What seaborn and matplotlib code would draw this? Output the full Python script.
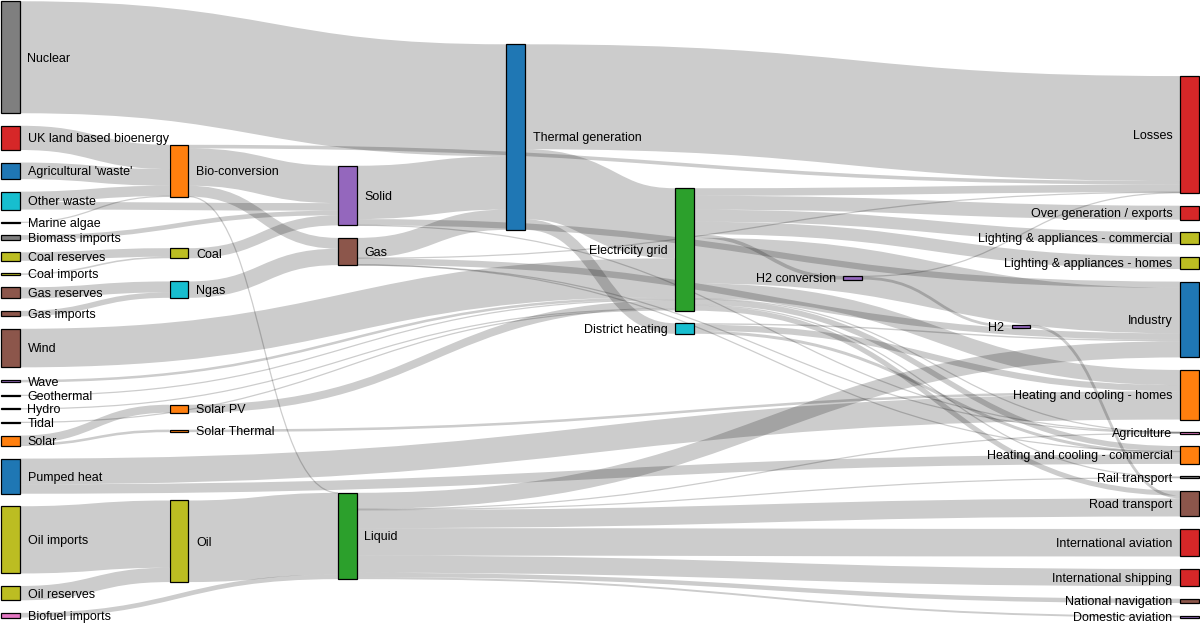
import matplotlib
matplotlib.use("Agg")
import matplotlib.pyplot as plt
from matplotlib.path import Path
from matplotlib.patches import PathPatch, Rectangle
import seaborn as sns

# energy flows (TWh), UK 2050 scenario
node_names = [
    "Agricultural 'waste'", "Bio-conversion", "Liquid", "Losses", "Solid", "Gas",
    "Biofuel imports", "Biomass imports", "Coal imports", "Coal", "Coal reserves",
    "District heating", "Industry", "Heating and cooling - commercial",
    "Heating and cooling - homes", "Electricity grid", "Over generation / exports",
    "H2 conversion", "Road transport", "Agriculture", "Rail transport",
    "Lighting & appliances - commercial", "Lighting & appliances - homes",
    "Gas imports", "Ngas", "Gas reserves", "Thermal generation", "Geothermal",
    "H2", "Hydro", "International shipping", "Domestic aviation",
    "International aviation", "National navigation", "Marine algae", "Nuclear",
    "Oil imports", "Oil", "Oil reserves", "Other waste", "Pumped heat",
    "Solar PV", "Solar Thermal", "Solar", "Tidal", "UK land based bioenergy",
    "Wave", "Wind",
]
link_source = [0, 1, 1, 1, 1, 6, 7, 8, 10, 9, 11, 11, 11, 15, 15, 15, 15, 15, 15,
               15, 15, 15, 15, 15, 23, 25, 5, 5, 5, 5, 5, 27, 17, 17, 28, 29, 2, 2,
               2, 2, 2, 2, 2, 2, 34, 24, 35, 36, 38, 37, 39, 39, 40, 40, 41, 42,
               43, 43, 44, 45, 46, 47, 4, 4, 4, 26, 26, 26]
link_target = [1, 2, 3, 4, 5, 2, 4, 9, 9, 4, 12, 13, 14, 16, 14, 17, 12, 18, 19,
               13, 3, 20, 21, 22, 24, 24, 13, 3, 26, 19, 12, 15, 28, 3, 18, 15, 12,
               30, 18, 31, 32, 19, 33, 20, 1, 5, 26, 37, 37, 2, 4, 1, 14, 13, 15,
               14, 42, 41, 15, 1, 15, 15, 19, 26, 12, 15, 3, 11]
link_value = [124.729, 0.597, 26.862, 280.322, 81.144, 35, 35, 11.606, 63.965,
              75.571, 10.639, 22.505, 46.184, 104.453, 113.726, 27.14, 342.165,
              37.797, 4.412, 40.858, 56.691, 7.863, 90.008, 93.494, 40.719,
              82.233, 0.129, 1.401, 151.891, 2.096, 48.58, 7.013, 20.897, 6.242,
              20.897, 6.995, 121.066, 128.69, 135.835, 14.458, 206.267, 3.64,
              33.218, 4.413, 4.375, 122.952, 839.978, 504.287, 107.703, 611.99,
              56.587, 77.81, 193.026, 70.672, 59.901, 19.263, 19.263, 59.901,
              9.452, 182.01, 19.013, 289.366, 0.882, 400.12, 46.477, 525.531,
              787.129, 79.329]

# ---- layout (same steps as d3-sankey) ----
W, H = 960, 500
NODE_W, PAD = 15, 10
EX0, EY0, EX1, EY1 = 1, 1, W - 1, H - 6
ITERATIONS = 32

n = len(node_names)
src_links = [[] for _ in range(n)]
tgt_links = [[] for _ in range(n)]
for i in range(len(link_value)):
    src_links[link_source[i]].append(i)
    tgt_links[link_target[i]].append(i)
value = [max(sum(link_value[l] for l in src_links[k]),
             sum(link_value[l] for l in tgt_links[k])) for k in range(n)]

depth = [0] * n
cur, x = list(range(n)), 0
while cur:
    nxt = []
    for k in cur:
        depth[k] = x
        for l in src_links[k]:
            if link_target[l] not in nxt:
                nxt.append(link_target[l])
    cur, x = nxt, x + 1
cur, x = list(range(n)), 0
while cur:
    nxt = []
    for k in cur:
        for l in tgt_links[k]:
            if link_source[l] not in nxt:
                nxt.append(link_source[l])
    cur, x = nxt, x + 1
ncols = x
kx = (EX1 - EX0 - NODE_W) / (ncols - 1)
layer = [min(ncols - 1, depth[k]) if src_links[k] else ncols - 1 for k in range(n)]
nx0 = [EX0 + layer[k] * kx for k in range(n)]
nx1 = [v + NODE_W for v in nx0]

columns = [[k for k in range(n) if layer[k] == c] for c in range(ncols)]
ky = min((EY1 - EY0 - (len(c) - 1) * PAD) / sum(value[k] for k in c) for c in columns)
y0 = [0.0] * n
y1 = [0.0] * n
for c in columns:
    for i, k in enumerate(c):
        y0[k] = float(i)
        y1[k] = i + value[k] * ky
width = [v * ky for v in link_value]


def center(k):
    return (y0[k] + y1[k]) / 2


def resolve():
    for c in columns:
        c.sort(key=lambda k: y0[k])
        y = EY0
        for k in c:
            dy = y - y0[k]
            if dy > 0:
                y0[k] += dy
                y1[k] += dy
            y = y1[k] + PAD
        dy = y - PAD - EY1
        if dy > 0:
            last = c[-1]
            y0[last] -= dy
            y1[last] -= dy
            y = y0[last]
            for k in reversed(c[:-1]):
                dy = y1[k] + PAD - y
                if dy > 0:
                    y0[k] -= dy
                    y1[k] -= dy
                y = y0[k]


def relax_left(alpha):
    for c in columns:
        for k in c:
            if tgt_links[k]:
                s = sum(center(link_source[l]) * link_value[l] for l in tgt_links[k])
                w = sum(link_value[l] for l in tgt_links[k])
                dy = (s / w - center(k)) * alpha
                y0[k] += dy
                y1[k] += dy


def relax_right(alpha):
    for c in reversed(columns):
        for k in c:
            if src_links[k]:
                s = sum(center(link_target[l]) * link_value[l] for l in src_links[k])
                w = sum(link_value[l] for l in src_links[k])
                dy = (s / w - center(k)) * alpha
                y0[k] += dy
                y1[k] += dy


resolve()
alpha = 1.0
for _ in range(ITERATIONS):
    alpha *= 0.99
    relax_right(alpha)
    resolve()
    relax_left(alpha)
    resolve()

ly0 = [0.0] * len(link_value)
ly1 = [0.0] * len(link_value)
for k in range(n):
    src_links[k].sort(key=lambda l: (y0[link_target[l]], l))
    tgt_links[k].sort(key=lambda l: (y0[link_source[l]], l))
for k in range(n):
    a = b = y0[k]
    for l in src_links[k]:
        ly0[l] = a + width[l] / 2
        a += width[l]
    for l in tgt_links[k]:
        ly1[l] = b + width[l] / 2
        b += width[l]

# ---- drawing ----
sns.set_style("white")
plt.rcParams['font.family'] = ['Liberation Sans', 'DejaVu Sans']
palette = sns.color_palette("tab10")
color_keys = []
for name in node_names:
    key = name.split(" ")[0]
    if key not in color_keys:
        color_keys.append(key)

fig = plt.figure(figsize=(12, 6.25), dpi=100)
ax = fig.add_axes([0, 0, 1, 1])
ax.set_xlim(0, W)
ax.set_ylim(H, 0)
ax.axis('off')
pt = 1200 / W * 72 / 100  # one layout unit in points

for l in range(len(link_value)):
    s, t = link_source[l], link_target[l]
    xa, xb = nx1[s], nx0[t]
    xm = (xa + xb) / 2
    path = Path([(xa, ly0[l]), (xm, ly0[l]), (xm, ly1[l]), (xb, ly1[l])],
                [Path.MOVETO, Path.CURVE4, Path.CURVE4, Path.CURVE4])
    ax.add_patch(PathPatch(path, facecolor='none', edgecolor=(0, 0, 0, 0.2),
                           linewidth=max(1, width[l]) * pt, capstyle='butt'))

for k in range(n):
    col = palette[color_keys.index(node_names[k].split(" ")[0]) % 10]
    ax.add_patch(Rectangle((nx0[k], y0[k]), NODE_W, y1[k] - y0[k], facecolor=col,
                           edgecolor='#000', linewidth=pt))
    yc = (y0[k] + y1[k]) / 2 + 3.5
    if nx0[k] < W / 2:
        ax.text(nx1[k] + 6, yc, node_names[k], ha='left', va='baseline',
                fontsize=9, color='black')
    else:
        ax.text(nx0[k] - 6, yc, node_names[k], ha='right', va='baseline',
                fontsize=9, color='black')

fig.savefig("out.png", dpi=100)
